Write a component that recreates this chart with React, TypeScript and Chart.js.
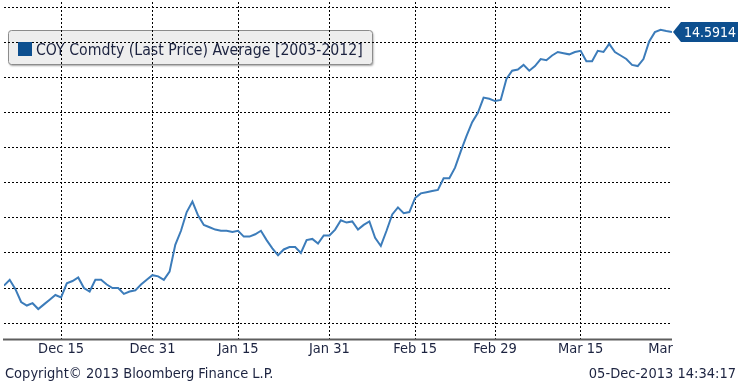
import { useEffect, useRef } from "react";
import { Chart, registerables } from "chart.js";

Chart.register(...registerables);

const seriesLabel = "COY Comdty (Last Price) Average [2003-2012]";

// one value per calendar day, 05-Dec .. 31-Mar
const values = [
  12.42, 12.47, 12.39, 12.28, 12.25, 12.27, 12.22, 12.26, 12.30, 12.34,
  12.32, 12.44, 12.46, 12.49, 12.40, 12.37, 12.47, 12.47, 12.43, 12.40,
  12.40, 12.35, 12.37, 12.38, 12.43, 12.47, 12.51, 12.50, 12.47, 12.54,
  12.77, 12.89, 13.05, 13.14, 13.02, 12.94, 12.92, 12.90, 12.89, 12.89,
  12.88, 12.89, 12.84, 12.84, 12.86, 12.89, 12.81, 12.74, 12.68, 12.73,
  12.75, 12.75, 12.70, 12.81, 12.82, 12.78, 12.85, 12.85, 12.90, 12.98,
  12.96, 12.97, 12.90, 12.94, 12.97, 12.83, 12.76, 12.89, 13.03, 13.09,
  13.04, 13.05, 13.17, 13.21, 13.22, 13.23, 13.24, 13.34, 13.34, 13.43,
  13.57, 13.70, 13.82, 13.90, 14.03, 14.02, 14.00, 14.01, 14.19, 14.26,
  14.27, 14.31, 14.26, 14.30, 14.36, 14.35, 14.39, 14.42, 14.41, 14.40,
  14.42, 14.43, 14.34, 14.34, 14.43, 14.42, 14.49, 14.42, 14.39, 14.36,
  14.31, 14.30, 14.36, 14.51, 14.59, 14.61, 14.60, 14.5914,
];

const tickDays = [10, 26, 41, 57, 72, 86, 101, 115];
const tickLabels = ["Dec 15", "Dec 31", "Jan 15", "Jan 31", "Feb 15", "Feb 29", "Mar 15", "Mar"];
const gridValues = [12.1, 12.4, 12.7, 13.0, 13.3, 13.6, 13.9, 14.2, 14.5, 14.8];
const yMin = 11.967;
const yMax = 14.848;
const lastValueText = "14.5914";
const copyrightText = "Copyright\u00A9 2013 Bloomberg Finance L.P.";
const timestampText = "05-Dec-2013 14:34:17";

const FONT = '"DejaVu Sans Condensed", "DejaVu Sans", sans-serif';
const TEXT_COLOR = "#1c2340";
const GRID_COLOR = "#000000";
const LINE_COLOR = "#3c7cba";
const MARKER_COLOR = "#0d4f8f";

const decorPlugin = {
  id: "decor",
  beforeDraw(chart: any) {
    const ctx = chart.ctx;
    ctx.save();
    ctx.shadowColor = "rgba(0,0,0,0.35)";
    ctx.shadowBlur = 2;
    ctx.shadowOffsetX = 1;
    ctx.shadowOffsetY = 1.5;
    ctx.beginPath();
    (ctx as any).roundRect(8.5, 30.5, 364, 34, 3);
    ctx.fillStyle = "#eeeeee";
    ctx.fill();
    ctx.shadowColor = "transparent";
    ctx.lineWidth = 1;
    ctx.strokeStyle = "#8c8c8c";
    ctx.stroke();
    ctx.restore();
  },
  afterDraw(chart: any) {
    const ctx = chart.ctx;
    const area = chart.chartArea;
    const yScale = chart.scales.y;
    ctx.save();
    // x axis line
    ctx.beginPath();
    ctx.moveTo(3, area.bottom + 1);
    ctx.lineTo(area.right, area.bottom + 1);
    ctx.lineWidth = 2;
    ctx.strokeStyle = "#5e5e5e";
    ctx.stroke();

    // legend content
    const ds = chart.data.datasets[0];
    ctx.fillStyle = MARKER_COLOR;
    ctx.fillRect(18, 42, 14, 14);
    ctx.fillStyle = TEXT_COLOR;
    ctx.font = `15.7px ${FONT}`;
    ctx.textBaseline = "alphabetic";
    ctx.textAlign = "left";
    ctx.fillText(ds.label, 36, 55);

    // last value marker
    const lastVal = values[values.length - 1];
    const yc = Math.round(yScale.getPixelForValue(lastVal));
    const tip = area.right + 1;
    ctx.beginPath();
    ctx.moveTo(tip, yc);
    ctx.lineTo(tip + 8, yc - 10);
    ctx.lineTo(738, yc - 10);
    ctx.lineTo(738, yc + 10);
    ctx.lineTo(tip + 8, yc + 10);
    ctx.closePath();
    ctx.fillStyle = MARKER_COLOR;
    ctx.fill();
    ctx.fillStyle = "#ffffff";
    ctx.font = `14px ${FONT}`;
    ctx.textBaseline = "middle";
    ctx.fillText(lastValueText, 684, yc + 1);

    // footer
    ctx.fillStyle = TEXT_COLOR;
    ctx.font = `14.5px ${FONT}`;
    ctx.textBaseline = "alphabetic";
    ctx.textAlign = "left";
    ctx.fillText(copyrightText, 5, 378);
    ctx.textAlign = "right";
    ctx.fillText(timestampText, 736, 378);
    ctx.restore();
  },
};

export default function App() {
  const canvasRef = useRef<HTMLCanvasElement | null>(null);

  useEffect(() => {
    document.body.style.margin = "0";
    const canvas = canvasRef.current;
    if (!canvas) return;
    const chart = new Chart(canvas, {
      type: "line",
      data: {
        datasets: [
          {
            label: seriesLabel,
            data: values.map((v, i) => ({ x: i, y: v })),
            borderColor: LINE_COLOR,
            borderWidth: 2,
            pointRadius: 0,
            tension: 0,
            fill: false,
          },
        ],
      },
      options: {
        animation: false,
        responsive: false,
        devicePixelRatio: 1,
        layout: { padding: { left: 4, right: 81, top: 2, bottom: 24 } },
        plugins: { legend: { display: false }, tooltip: { enabled: false } },
        scales: {
          x: {
            type: "linear",
            min: 0,
            max: values.length - 1,
            offset: false,
            afterBuildTicks: (scale: any) => {
              scale.ticks = tickDays.map((v) => ({ value: v }));
            },
            ticks: {
              autoSkip: false,
              maxRotation: 0,
              padding: 2,
              color: TEXT_COLOR,
              font: { family: FONT, size: 14.5 },
              callback: (_v: any, i: number) => tickLabels[i],
            },
            grid: {
              color: (c: any) => (c.index === tickDays.length - 1 ? "rgba(0,0,0,0)" : GRID_COLOR),
              lineWidth: 1,
              drawTicks: false,
            },
            border: { display: false, dash: [2, 2] },
          },
          y: {
            min: yMin,
            max: yMax,
            afterBuildTicks: (scale: any) => {
              scale.ticks = gridValues.map((v) => ({ value: v }));
            },
            ticks: { display: false },
            grid: { color: GRID_COLOR, lineWidth: 1, drawTicks: false },
            border: { display: false, dash: [2, 2] },
          },
        },
      } as any,
      plugins: [decorPlugin],
    });
    return () => chart.destroy();
  }, []);

  return (
    <div style={{ width: 753, height: 384 }}>
      <canvas ref={canvasRef} width={753} height={384} style={{ display: "block" }} />
    </div>
  );
}
